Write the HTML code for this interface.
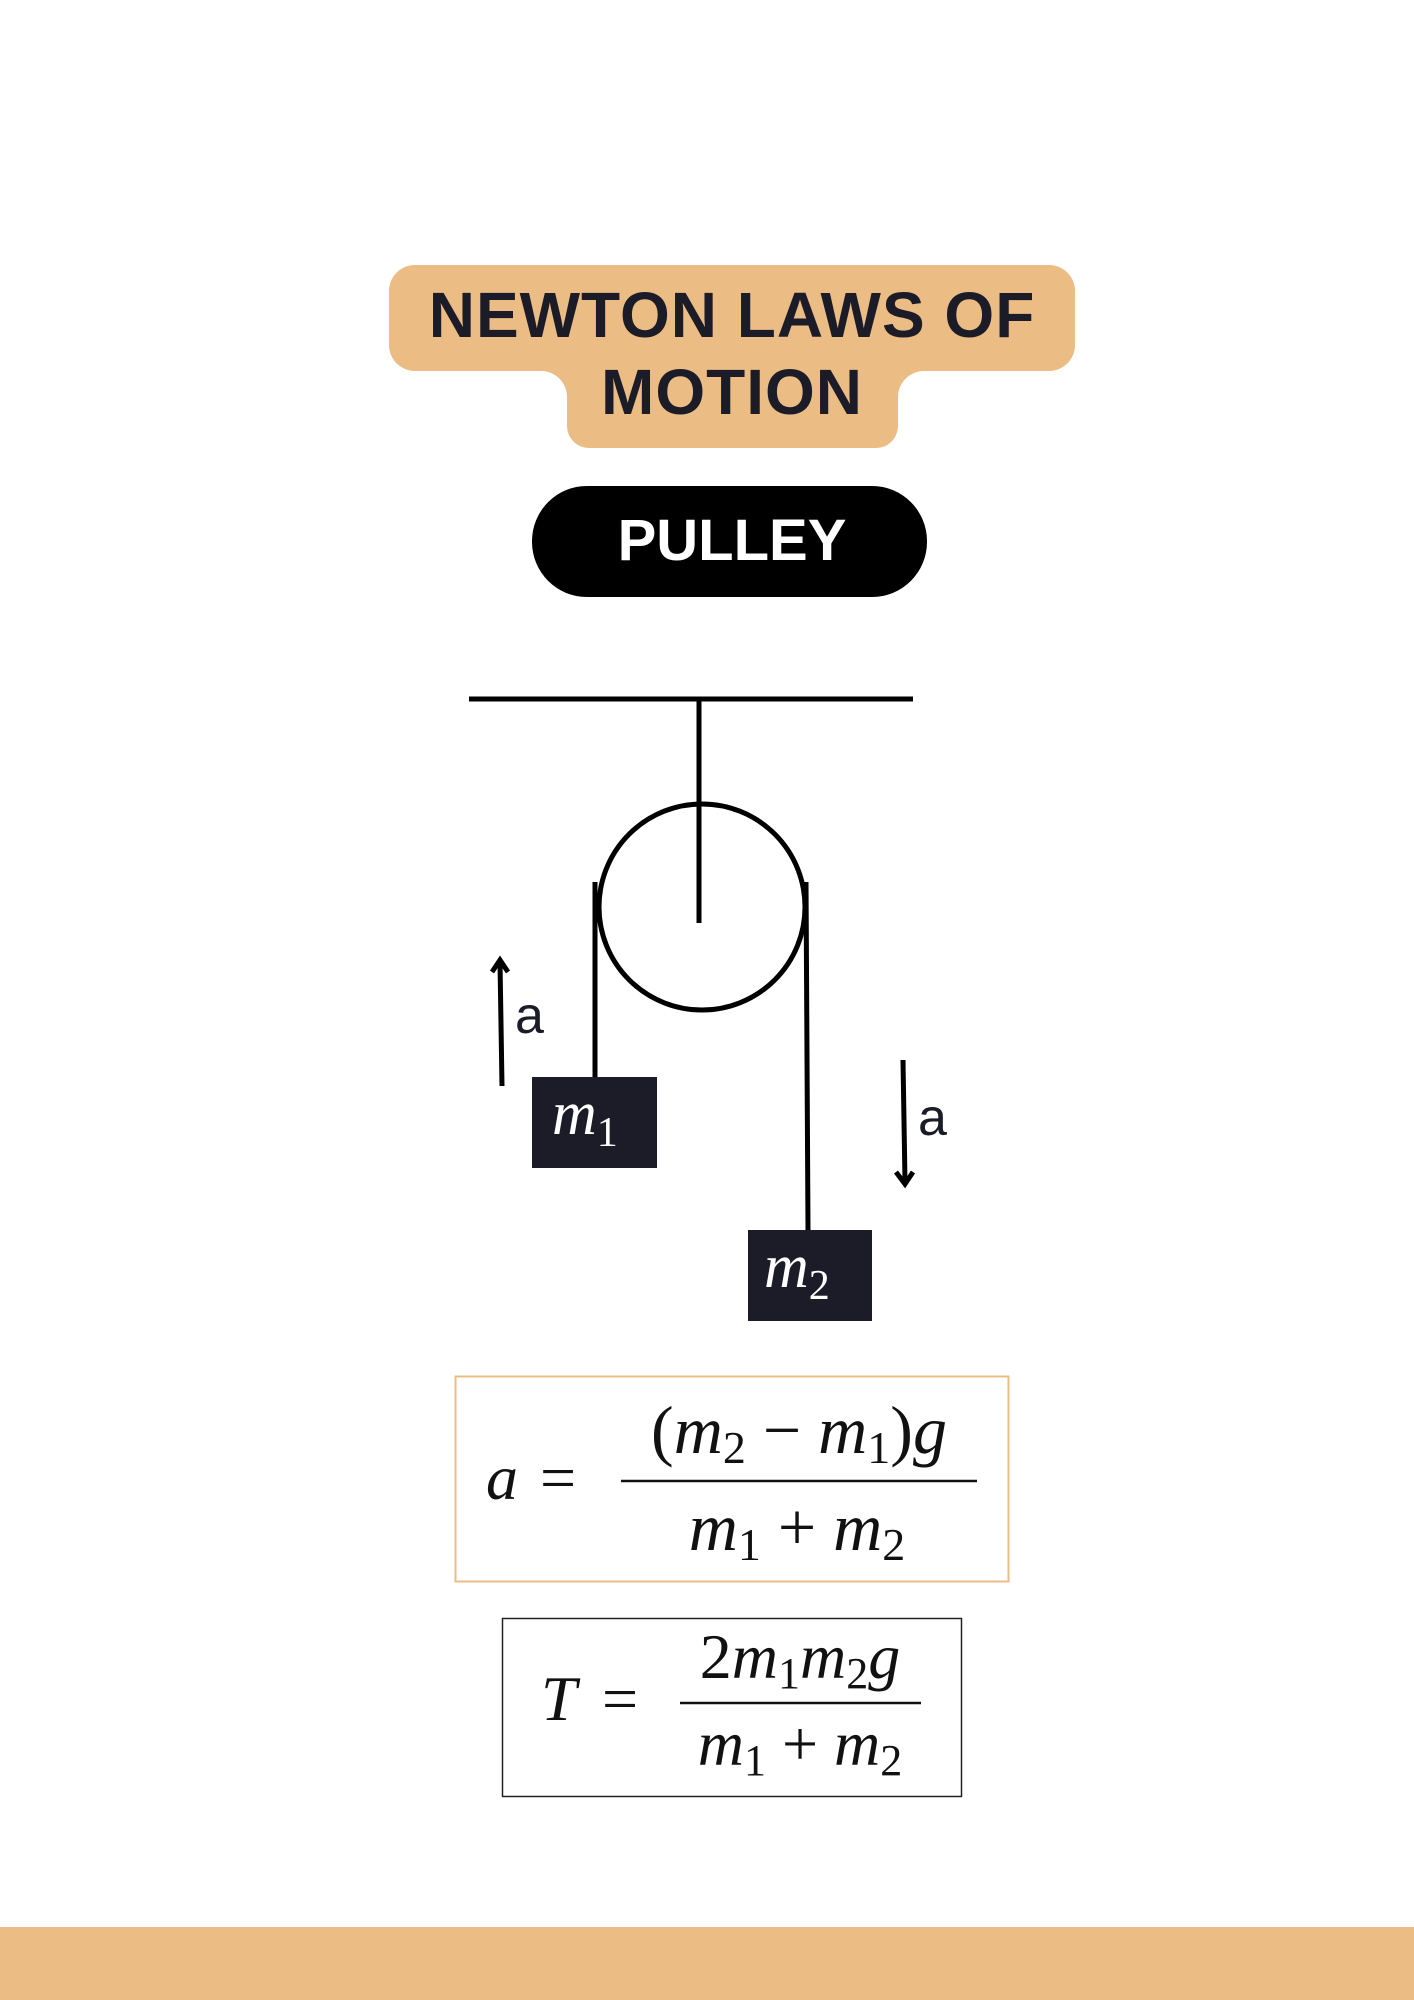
<!DOCTYPE html>
<html><head><meta charset="utf-8"><style>
html,body{margin:0;padding:0;background:#fff}
svg{display:block}
.t{font-family:"Liberation Sans",sans-serif;font-weight:bold}
.m{font-family:"Liberation Serif",serif;font-style:italic;fill:#111}
.r{font-family:"Liberation Serif",serif;fill:#111}
</style></head><body>
<svg width="1414" height="2000" viewBox="0 0 1414 2000" xmlns="http://www.w3.org/2000/svg">
<rect width="1414" height="2000" fill="#fff"/>
<rect x="389" y="265" width="686" height="106" rx="26" fill="#ebbd84"/>
<rect x="567" y="340" width="331" height="108" rx="22" fill="#ebbd84"/>
<path d="M541 371 a26 26 0 0 1 26 26 v-26z" fill="#ebbd84"/>
<path d="M924 371 a26 26 0 0 0 -26 26 v-26z" fill="#ebbd84"/>
<text x="732" y="337" text-anchor="middle" class="t" font-size="64" fill="#1c1c28" letter-spacing="1">NEWTON LAWS OF</text>
<text x="732" y="414" text-anchor="middle" class="t" font-size="64" fill="#1c1c28" letter-spacing="1">MOTION</text>
<rect x="532" y="486" width="395" height="111" rx="55" fill="#000"/>
<text x="732" y="560" text-anchor="middle" class="t" font-size="58" fill="#fff">PULLEY</text>
<g stroke="#000" stroke-width="5" fill="none">
<line x1="469" y1="699" x2="913" y2="699"/>
<line x1="699" y1="699" x2="699" y2="923"/>
<circle cx="702" cy="907" r="103"/>
<line x1="595" y1="882" x2="595" y2="1077"/>
<line x1="806" y1="882" x2="808" y2="1230"/>
<line x1="502" y1="1086" x2="500" y2="962"/>
<polyline points="492,972 500,960 508,972"/>
<line x1="903" y1="1060" x2="905" y2="1182"/>
<polyline points="896,1172 905,1184 913,1172"/>
</g>
<text x="515" y="1033" font-family="Liberation Sans,sans-serif" font-size="52" fill="#1c1c28">a</text>
<text x="918" y="1135" font-family="Liberation Sans,sans-serif" font-size="52" fill="#1c1c28">a</text>
<rect x="532" y="1077" width="125" height="91" fill="#1c1c28"/>
<text x="552" y="1134" font-family="Liberation Serif,serif" font-style="italic" font-size="62" fill="#fff">m<tspan font-style="normal" font-size="42" dy="12">1</tspan></text>
<rect x="748" y="1230" width="124" height="91" fill="#1c1c28"/>
<text x="764" y="1287" font-family="Liberation Serif,serif" font-style="italic" font-size="62" fill="#fff">m<tspan font-style="normal" font-size="42" dy="12">2</tspan></text>
<rect x="455.5" y="1376.5" width="553" height="205" fill="none" stroke="#ebbd84" stroke-width="2"/>
<text x="486" y="1499" class="m" font-size="64">a</text>
<text x="540" y="1499" class="r" font-size="64">=</text>
<line x1="621" y1="1481" x2="977" y2="1481" stroke="#111" stroke-width="2.5"/>
<text x="799" y="1453" text-anchor="middle" class="r" font-size="68">(<tspan class="m">m</tspan><tspan font-size="46" dy="10">2</tspan><tspan dy="-10"> − </tspan><tspan class="m">m</tspan><tspan font-size="46" dy="10">1</tspan><tspan dy="-10">)</tspan><tspan class="m">g</tspan></text>
<text x="797" y="1550" text-anchor="middle" class="r" font-size="68"><tspan class="m">m</tspan><tspan font-size="46" dy="10">1</tspan><tspan dy="-10"> + </tspan><tspan class="m">m</tspan><tspan font-size="46" dy="10">2</tspan></text>
<rect x="502.5" y="1618.5" width="459" height="178" fill="none" stroke="#222" stroke-width="1.5"/>
<text x="541" y="1720" class="m" font-size="64">T</text>
<text x="602" y="1720" class="r" font-size="64">=</text>
<line x1="680" y1="1703" x2="921" y2="1703" stroke="#111" stroke-width="2.5"/>
<text x="800" y="1678" text-anchor="middle" class="r" font-size="64">2<tspan class="m">m</tspan><tspan font-size="44" dy="10">1</tspan><tspan class="m" dy="-10">m</tspan><tspan font-size="44" dy="10">2</tspan><tspan class="m" dy="-10">g</tspan></text>
<text x="800" y="1765" text-anchor="middle" class="r" font-size="64"><tspan class="m">m</tspan><tspan font-size="44" dy="10">1</tspan><tspan dy="-10"> + </tspan><tspan class="m">m</tspan><tspan font-size="44" dy="10">2</tspan></text>
<rect x="0" y="1927" width="1414" height="73" fill="#ebbd84"/>
</svg>
</body></html>
